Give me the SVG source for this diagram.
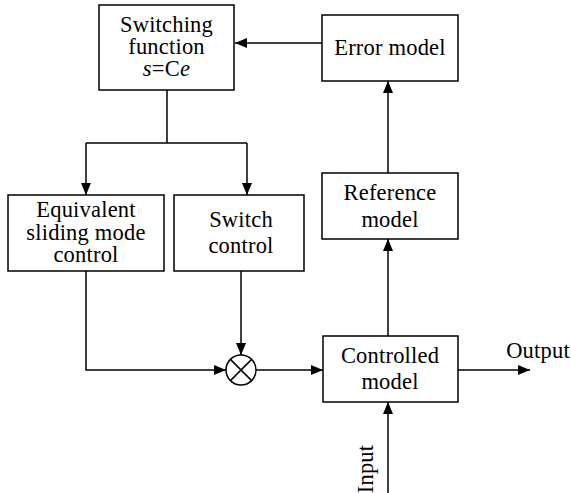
<svg xmlns="http://www.w3.org/2000/svg" width="571" height="493" viewBox="0 0 571 493" font-family="Liberation Serif, Times New Roman, serif">
<style>
.box{fill:#fff;stroke:#000;stroke-width:1.5}
.t{font-family:"Liberation Serif",serif;font-size:22.5px;letter-spacing:0.2px;fill:#000;text-anchor:middle}
.ln{fill:none;stroke:#000;stroke-width:1.5}
</style>
<defs>
<marker id="ah" viewBox="0 0 12 10" refX="12" refY="5" markerWidth="12" markerHeight="10" markerUnits="userSpaceOnUse" orient="auto">
<path d="M0,0 L12,5 L0,10 Z" fill="#000"/>
</marker>
</defs>
<rect width="571" height="493" fill="#fff"/>
<g id="connectors">
<path class="ln" d="M322,43 H235" marker-end="url(#ah)"/>
<path class="ln" d="M167,90 V143 M86,143 H247"/>
<path class="ln" d="M86,143 V195" marker-end="url(#ah)"/>
<path class="ln" d="M247,143 V195" marker-end="url(#ah)"/>
<path class="ln" d="M388,173 V81" marker-end="url(#ah)"/>
<path class="ln" d="M388,336 V239" marker-end="url(#ah)"/>
<path class="ln" d="M86,271 V370 H226" marker-end="url(#ah)"/>
<path class="ln" d="M241,271 V355" marker-end="url(#ah)"/>
<path class="ln" d="M256,370 H323" marker-end="url(#ah)"/>
<path class="ln" d="M458,370 H530" marker-end="url(#ah)"/>
<path class="ln" d="M388,493 V402" marker-end="url(#ah)"/>
</g>
<g id="switching">
<rect class="box" x="99" y="5" width="135" height="85"/>
<text class="t" x="166.5" y="32">Switching</text>
<text class="t" x="166.5" y="54">function</text>
<text class="t" x="166.5" y="76"><tspan font-style="italic">s</tspan>=C<tspan font-style="italic">e</tspan></text>
</g>
<g id="error">
<rect class="box" x="322" y="15" width="136" height="66"/>
<text class="t" x="390" y="55">Error model</text>
</g>
<g id="reference">
<rect class="box" x="322" y="173" width="136" height="66"/>
<text class="t" x="390" y="200">Reference</text>
<text class="t" x="390" y="227">model</text>
</g>
<g id="equivalent">
<rect class="box" x="8" y="195" width="156" height="76"/>
<text class="t" x="86" y="217">Equivalent</text>
<text class="t" x="86" y="240">sliding mode</text>
<text class="t" x="86" y="262">control</text>
</g>
<g id="switch">
<rect class="box" x="174" y="195" width="130" height="76"/>
<text class="t" x="241" y="227">Switch</text>
<text class="t" x="241" y="253">control</text>
</g>
<g id="multiplier">
<circle cx="241" cy="370" r="15" fill="#fff" stroke="#000" stroke-width="1.5"/>
<path class="ln" d="M230.4,359.4 L251.6,380.6 M251.6,359.4 L230.4,380.6"/>
</g>
<g id="controlled">
<rect class="box" x="323" y="336" width="135" height="66"/>
<text class="t" x="390" y="363">Controlled</text>
<text class="t" x="390" y="389">model</text>
</g>
<g id="labels">
<text class="t" x="538" y="358">Output</text>
<text class="t" transform="translate(373,469) rotate(-90)">Input</text>
</g>
</svg>
